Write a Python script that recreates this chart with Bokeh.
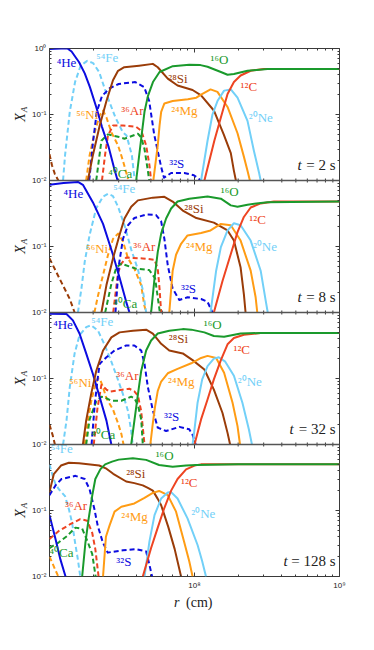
import math
import numpy as np
from bokeh.plotting import figure
from bokeh.layouts import row, column
from bokeh.models import Range1d, LogScale, LogAxis, FixedTicker, Label, Span, ColumnDataSource
from bokeh.embed import file_html
from bokeh.resources import INLINE
from bokeh.core.properties import value

R_UNIT = 1e7  # radii below are given in units of 1e7 cm; pairs are (r, X_A)

# ---------------- t = 2 s ----------------
T2_XX = [(1.0, 0.025), (1.04, 0.017), (1.09, 0.0125), (1.15, 0.01)]
T2_HE4 = [(1.0, 0.98), (1.2, 1.0), (1.33, 1.0), (1.42, 0.9), (1.6, 0.62), (1.75, 0.42), (1.9, 0.26),
          (2.1, 0.13), (2.3, 0.065), (2.55, 0.033), (2.8, 0.015), (2.95, 0.01)]
T2_FE54 = [(1.24, 0.01), (1.28, 0.024), (1.38, 0.11), (1.50, 0.31), (1.64, 0.55), (1.82, 0.65), (2.0, 0.6),
           (2.2, 0.44), (2.5, 0.19), (2.85, 0.09), (3.2, 0.054), (3.4, 0.048), (3.7, 0.024), (3.85, 0.011)]
T2_NI56 = [(1.79, 0.01), (1.89, 0.024), (2.05, 0.054), (2.22, 0.097), (2.34, 0.115), (2.47, 0.09),
           (2.67, 0.054), (2.97, 0.034), (3.21, 0.02), (3.48, 0.0105)]
T2_AR36 = [(2.3, 0.01), (2.42, 0.025), (2.53, 0.048), (2.74, 0.068), (3.21, 0.068), (3.96, 0.065),
           (4.29, 0.057), (4.64, 0.034), (4.89, 0.017), (5.02, 0.01)]
T2_CA40 = [(2.1, 0.01), (2.28, 0.04), (2.53, 0.05), (2.97, 0.046), (3.29, 0.043), (4.07, 0.051),
           (4.29, 0.045), (4.52, 0.03), (4.77, 0.014), (4.87, 0.01)]
T2_S32 = [(1.88, 0.01), (2.0, 0.04), (2.12, 0.11), (2.3, 0.19), (2.6, 0.25), (3.0, 0.29), (3.9, 0.31),
          (4.5, 0.26), (4.87, 0.16), (5.27, 0.05), (5.89, 0.016), (6.16, 0.011), (6.9, 0.013),
          (8.5, 0.013), (9.9, 0.012), (11.1, 0.01)]
T2_SI28 = [(1.84, 0.01), (1.99, 0.024), (2.22, 0.068), (2.47, 0.16), (2.74, 0.33), (2.97, 0.46),
           (3.28, 0.52), (4.15, 0.55), (5.16, 0.585), (5.58, 0.52), (6.54, 0.35), (7.64, 0.275),
           (9.7, 0.235), (11.1, 0.195), (13.6, 0.115), (15.9, 0.05), (17.8, 0.026), (18.7, 0.014), (19.3, 0.01)]
T2_O16 = [(3.96, 0.01), (4.29, 0.043), (4.52, 0.11), (4.77, 0.19), (5.17, 0.31), (5.74, 0.44), (7.08, 0.54),
          (9.2, 0.565), (11.0, 0.56), (12.3, 0.53), (15.2, 0.44), (16.9, 0.40), (18.7, 0.41), (23.2, 0.46),
          (31.9, 0.49), (53.9, 0.49), (100.0, 0.49)]
T2_MG24 = [(5.2, 0.01), (5.58, 0.034), (5.74, 0.068), (5.89, 0.11), (6.2, 0.147), (7.07, 0.16), (9.0, 0.17),
           (10.3, 0.18), (11.1, 0.20), (12.9, 0.24), (14.4, 0.22), (16.9, 0.13), (19.8, 0.052),
           (21.9, 0.023), (23.2, 0.014), (24.1, 0.01)]
T2_NE20 = [(11.1, 0.01), (12.3, 0.04), (13.3, 0.10), (14.4, 0.16), (16.0, 0.23), (17.8, 0.24), (19.8, 0.18),
           (23.2, 0.08), (25.7, 0.028), (27.9, 0.013), (28.6, 0.01)]
T2_C12 = [(11.7, 0.01), (13.7, 0.04), (15.2, 0.09), (16.9, 0.205), (18.7, 0.31), (20.8, 0.39), (24.4, 0.46),
          (30.1, 0.49), (50.0, 0.49), (100.0, 0.49)]

# ---------------- t = 8 s ----------------
T8_XX = [(1.0, 0.066), (1.17, 0.033), (1.38, 0.016), (1.49, 0.01)]
T8_HE4 = [(1.0, 0.86), (1.25, 0.92), (1.57, 0.95), (1.70, 0.86), (1.99, 0.47), (2.34, 0.22), (2.74, 0.075),
          (3.04, 0.034), (3.38, 0.0145), (3.56, 0.01)]
T8_FE54 = [(1.57, 0.01), (1.66, 0.023), (1.75, 0.059), (1.89, 0.149), (2.1, 0.38), (2.34, 0.57), (2.53, 0.63),
           (2.74, 0.58), (2.97, 0.40), (3.29, 0.21), (3.66, 0.09), (4.07, 0.045), (4.4, 0.022), (4.64, 0.01)]
T8_NI56 = [(2.04, 0.01), (2.16, 0.018), (2.34, 0.037), (2.53, 0.074), (2.74, 0.13), (2.97, 0.157),
           (3.21, 0.12), (3.48, 0.066), (3.85, 0.046), (4.29, 0.026), (4.5, 0.013), (4.64, 0.01)]
T8_AR36 = [(2.75, 0.01), (2.97, 0.04), (3.13, 0.055), (3.38, 0.068), (3.76, 0.067), (4.4, 0.066),
           (5.3, 0.063), (5.58, 0.046), (5.74, 0.023), (5.89, 0.01)]
T8_CA40 = [(2.42, 0.01), (2.67, 0.027), (2.89, 0.048), (3.13, 0.055), (3.54, 0.05), (3.96, 0.046),
           (4.87, 0.044), (5.35, 0.033), (5.6, 0.016), (5.77, 0.01)]
T8_S32 = [(2.85, 0.01), (3.0, 0.05), (3.21, 0.13), (3.48, 0.21), (3.85, 0.27), (4.64, 0.305), (5.43, 0.30),
          (5.89, 0.24), (6.2, 0.13), (6.54, 0.052), (7.07, 0.023), (7.86, 0.0155), (8.95, 0.017),
          (11.1, 0.016), (12.3, 0.0145), (13.3, 0.01)]
T8_SI28 = [(2.28, 0.01), (2.47, 0.026), (2.74, 0.066), (3.04, 0.149), (3.29, 0.266), (3.66, 0.40),
           (4.07, 0.50), (5.16, 0.55), (6.2, 0.565), (7.07, 0.48), (8.3, 0.35), (10.3, 0.27), (13.6, 0.23),
           (16.9, 0.175), (18.7, 0.123), (20.8, 0.048), (21.9, 0.019), (22.5, 0.01)]
T8_O16 = [(5.02, 0.01), (5.3, 0.033), (5.58, 0.083), (5.89, 0.157), (6.37, 0.266), (6.9, 0.377), (7.64, 0.48),
          (9.2, 0.53), (12.3, 0.57), (15.2, 0.53), (17.8, 0.42), (19.8, 0.40), (23.2, 0.43), (31.9, 0.47),
          (100.0, 0.48)]
T8_MG24 = [(6.7, 0.01), (7.07, 0.043), (7.46, 0.075), (8.08, 0.11), (8.95, 0.147), (11.1, 0.16),
           (12.9, 0.175), (15.2, 0.22), (17.8, 0.21), (20.8, 0.123), (24.4, 0.043), (26.4, 0.017), (27.1, 0.01)]
T8_NE20 = [(12.9, 0.01), (14.1, 0.043), (15.2, 0.098), (16.9, 0.175), (18.7, 0.225), (20.8, 0.21),
           (24.4, 0.123), (28.6, 0.043), (31.0, 0.015), (32.0, 0.01)]
T8_C12 = [(13.6, 0.01), (15.6, 0.03), (17.8, 0.077), (19.8, 0.165), (21.9, 0.28), (24.4, 0.39), (28.6, 0.45),
          (35.3, 0.48), (100.0, 0.48)]

# ---------------- t = 32 s ----------------
T32_XX = [(1.0, 0.02), (1.05, 0.014), (1.09, 0.01)]
T32_HE4 = [(1.0, 0.96), (1.31, 0.95), (1.45, 0.76), (1.61, 0.48), (1.79, 0.24), (1.99, 0.118), (2.22, 0.052),
           (2.47, 0.023), (2.67, 0.01)]
T32_FE54 = [(1.24, 0.01), (1.31, 0.023), (1.38, 0.074), (1.49, 0.24), (1.61, 0.45), (1.79, 0.6), (1.94, 0.64),
            (2.16, 0.53), (2.39, 0.33), (2.67, 0.18), (2.97, 0.095), (3.21, 0.058), (3.48, 0.032),
            (3.66, 0.016), (3.75, 0.01)]
T32_NI56 = [(1.75, 0.01), (1.84, 0.023), (1.94, 0.045), (2.05, 0.075), (2.15, 0.1), (2.22, 0.1), (2.34, 0.074),
            (2.47, 0.05), (2.74, 0.034), (2.97, 0.021), (3.13, 0.0145), (3.24, 0.01)]
T32_AR36 = [(2.02, 0.01), (2.14, 0.035), (2.28, 0.08), (2.47, 0.068), (2.6, 0.063), (2.97, 0.066),
            (3.55, 0.07), (3.85, 0.064), (4.07, 0.055), (4.29, 0.032), (4.4, 0.018), (4.52, 0.01)]
T32_CA40 = [(1.79, 0.01), (1.89, 0.024), (2.1, 0.045), (2.28, 0.053), (2.4, 0.052), (2.67, 0.046),
            (3.13, 0.046), (3.66, 0.053), (3.85, 0.05), (4.07, 0.04), (4.29, 0.024), (4.4, 0.01)]
T32_S32 = [(1.95, 0.01), (2.05, 0.04), (2.16, 0.11), (2.22, 0.167), (2.47, 0.21), (2.81, 0.266),
           (3.38, 0.316), (3.85, 0.316), (4.29, 0.266), (4.52, 0.167), (4.77, 0.074), (5.16, 0.033),
           (5.58, 0.018), (6.37, 0.016), (7.86, 0.0185), (9.2, 0.017), (9.7, 0.014), (10.2, 0.01)]
T32_SI28 = [(1.70, 0.01), (1.79, 0.023), (1.94, 0.059), (2.1, 0.13), (2.34, 0.266), (2.67, 0.42), (3.04, 0.50),
            (3.76, 0.53), (4.64, 0.55), (5.16, 0.48), (5.89, 0.335), (6.7, 0.266), (8.3, 0.24), (9.7, 0.19),
            (11.7, 0.137), (13.6, 0.068), (15.6, 0.03), (16.9, 0.015), (17.6, 0.01)]
T32_O16 = [(3.66, 0.01), (3.85, 0.023), (4.07, 0.057), (4.29, 0.13), (4.64, 0.266), (5.02, 0.377),
           (5.58, 0.48), (6.7, 0.53), (8.3, 0.56), (9.5, 0.55), (11.7, 0.50), (13.6, 0.44), (16.0, 0.43),
           (20.8, 0.48), (28.6, 0.49), (100.0, 0.49)]
T32_MG24 = [(4.96, 0.01), (5.16, 0.021), (5.35, 0.038), (5.58, 0.065), (5.89, 0.09), (6.54, 0.12),
            (7.64, 0.14), (9.5, 0.17), (11.1, 0.205), (12.3, 0.22), (14.1, 0.205), (16.0, 0.122),
            (18.3, 0.043), (19.8, 0.019), (20.6, 0.01)]
T32_NE20 = [(9.7, 0.01), (10.0, 0.017), (10.5, 0.043), (11.3, 0.097), (12.3, 0.154), (13.6, 0.2), (14.7, 0.21),
            (16.3, 0.18), (18.7, 0.11), (21.4, 0.043), (23.7, 0.017), (24.9, 0.01)]
T32_C12 = [(10.0, 0.01), (11.1, 0.024), (12.3, 0.048), (13.6, 0.097), (15.2, 0.19), (16.9, 0.33),
           (18.7, 0.41), (21.9, 0.46), (28.6, 0.49), (100.0, 0.49)]

# ---------------- t = 128 s ----------------
T128_HE4 = [(1.0, 0.085), (1.1, 0.037), (1.19, 0.018), (1.29, 0.01)]
T128_FE54 = [(1.0, 0.5), (1.05, 0.34), (1.1, 0.25), (1.16, 0.21), (1.28, 0.165), (1.36, 0.105), (1.43, 0.066),
             (1.5, 0.033), (1.57, 0.018), (1.63, 0.01)]
T128_NI56 = [(1.0, 0.02), (1.09, 0.013), (1.15, 0.01)]
T128_AR36 = [(1.0, 0.037), (1.16, 0.049), (1.39, 0.062), (1.63, 0.074), (1.82, 0.07), (1.97, 0.046),
             (2.07, 0.026), (2.18, 0.01)]
T128_CA40 = [(1.0, 0.027), (1.16, 0.033), (1.32, 0.041), (1.51, 0.055), (1.68, 0.053), (1.82, 0.035),
             (1.97, 0.022), (2.08, 0.01)]
T128_S32 = [(1.0, 0.17), (1.03, 0.19), (1.1, 0.24), (1.21, 0.30), (1.51, 0.335), (1.75, 0.30), (1.89, 0.21),
            (2.04, 0.105), (2.15, 0.059), (2.33, 0.033), (2.52, 0.023), (2.84, 0.024), (3.21, 0.025),
            (3.96, 0.026), (4.64, 0.024), (4.89, 0.015), (5.1, 0.01)]
T128_SI28 = [(1.0, 0.19), (1.07, 0.355), (1.2, 0.48), (1.36, 0.53), (1.6, 0.52), (2.2, 0.48), (2.47, 0.43),
             (2.75, 0.36), (3.38, 0.275), (3.85, 0.26), (4.4, 0.24), (4.77, 0.22), (5.16, 0.2), (5.58, 0.15),
             (5.89, 0.12), (6.6, 0.056), (7.3, 0.026), (8.08, 0.01)]
T128_O16 = [(1.68, 0.01), (1.77, 0.033), (1.86, 0.074), (1.97, 0.167), (2.07, 0.30), (2.24, 0.42),
            (2.42, 0.50), (2.7, 0.55), (3.0, 0.59), (3.76, 0.62), (4.64, 0.585), (5.7, 0.49), (7.07, 0.46),
            (8.75, 0.48), (10.3, 0.49), (20.0, 0.5), (100.0, 0.5)]
T128_MG24 = [(2.34, 0.01), (2.45, 0.04), (2.6, 0.06), (2.81, 0.096), (3.13, 0.114), (3.85, 0.128),
             (4.52, 0.155), (5.16, 0.185), (5.7, 0.198), (6.54, 0.171), (7.46, 0.096), (8.47, 0.034),
             (9.2, 0.017), (9.7, 0.01)]
T128_NE20 = [(4.52, 0.01), (4.89, 0.034), (5.3, 0.085), (5.89, 0.152), (6.54, 0.187), (6.9, 0.19),
             (7.64, 0.152), (8.95, 0.076), (10.5, 0.03), (11.3, 0.017), (12.0, 0.01)]
T128_C12 = [(4.4, 0.01), (5.02, 0.027), (5.58, 0.055), (6.2, 0.11), (6.9, 0.2), (7.64, 0.3), (8.75, 0.42),
            (10.0, 0.48), (11.1, 0.5), (100.0, 0.5)]

TIMES = ["2", "8", "32", "128"]
PANEL_DATA = [
    {"XX": T2_XX, "Ni56": T2_NI56, "Fe54": T2_FE54, "Ar36": T2_AR36, "Ca40": T2_CA40, "S32": T2_S32,
     "He4": T2_HE4, "Si28": T2_SI28, "Mg24": T2_MG24, "Ne20": T2_NE20, "C12": T2_C12, "O16": T2_O16},
    {"XX": T8_XX, "Ni56": T8_NI56, "Fe54": T8_FE54, "Ar36": T8_AR36, "Ca40": T8_CA40, "S32": T8_S32,
     "He4": T8_HE4, "Si28": T8_SI28, "Mg24": T8_MG24, "Ne20": T8_NE20, "C12": T8_C12, "O16": T8_O16},
    {"XX": T32_XX, "Ni56": T32_NI56, "Fe54": T32_FE54, "Ar36": T32_AR36, "Ca40": T32_CA40, "S32": T32_S32,
     "He4": T32_HE4, "Si28": T32_SI28, "Mg24": T32_MG24, "Ne20": T32_NE20, "C12": T32_C12, "O16": T32_O16},
    {"Ni56": T128_NI56, "Fe54": T128_FE54, "Ar36": T128_AR36, "Ca40": T128_CA40, "S32": T128_S32,
     "He4": T128_HE4, "Si28": T128_SI28, "Mg24": T128_MG24, "Ne20": T128_NE20, "C12": T128_C12, "O16": T128_O16},
]

LABEL_TEXT = {"He4": "⁴He", "Fe54": "⁵⁴Fe", "Ni56": "⁵⁶Ni", "Ar36": "³⁶Ar", "Ca40": "⁴⁰Ca", "S32": "³²S",
              "Si28": "²⁸Si", "O16": "¹⁶O", "Mg24": "²⁴Mg", "Ne20": "²⁰Ne", "C12": "¹²C"}

# label anchor positions (r in 1e7 cm, X) -- left/middle anchored
LABELS_T2 = [("He4", 1.12, 0.62), ("Fe54", 2.1, 0.72), ("Ni56", 1.53, 0.10), ("Ar36", 3.13, 0.115),
             ("Ca40", 2.54, 0.0127), ("S32", 6.7, 0.018), ("Si28", 6.6, 0.35), ("O16", 12.9, 0.68),
             ("Mg24", 6.9, 0.115), ("Ne20", 23.7, 0.09), ("C12", 20.8, 0.27)]
LABELS_T8 = [("He4", 1.25, 0.63), ("Fe54", 2.75, 0.75), ("Ni56", 1.79, 0.093), ("Ar36", 3.78, 0.10),
             ("Ca40", 2.75, 0.0137), ("S32", 8.08, 0.023), ("Si28", 8.5, 0.38), ("O16", 15.2, 0.67),
             ("Mg24", 8.75, 0.10), ("Ne20", 25.3, 0.10), ("C12", 23.9, 0.26)]
LABELS_T32 = [("He4", 1.06, 0.66), ("Fe54", 1.94, 0.72), ("Ni56", 1.37, 0.087), ("Ar36", 2.89, 0.11),
              ("Ca40", 1.94, 0.014), ("S32", 6.17, 0.027), ("Si28", 6.65, 0.41), ("O16", 11.6, 0.66),
              ("Mg24", 6.57, 0.09), ("Ne20", 19.9, 0.09), ("C12", 18.6, 0.275)]
LABELS_T128 = [("Fe54", 1.02, 0.86), ("O16", 5.4, 0.69), ("Si28", 3.38, 0.36), ("C12", 8.08, 0.27),
               ("Ar36", 1.28, 0.118), ("Mg24", 3.13, 0.08), ("Ne20", 9.5, 0.09), ("Ca40", 1.0, 0.023),
               ("S32", 2.89, 0.017)]
PANEL_LABELS = [LABELS_T2, LABELS_T8, LABELS_T32, LABELS_T128]

# ---------------- styles ----------------
BLUE, LBLUE, ORANGE, RED, GREEN, BROWN = "#0c0ce0", "#72d0f8", "#ff9c14", "#ee4422", "#1a9a2c", "#9a3c08"
COLOR = {"XX": BROWN, "Ni56": ORANGE, "Fe54": LBLUE, "Ar36": RED, "Ca40": GREEN, "S32": BLUE,
         "He4": BLUE, "Si28": BROWN, "Mg24": ORANGE, "Ne20": LBLUE, "C12": RED, "O16": GREEN}
DASHED = {"XX", "Ni56", "Fe54", "Ar36", "Ca40", "S32"}
DRAW_ORDER = ["XX", "Ni56", "Fe54", "Ar36", "Ca40", "S32", "He4", "Si28", "Mg24", "Ne20", "C12", "O16"]
T_OFFSET = [-42, -42, -50, -56]
SERIF = "Liberation Serif"
AXC = "#3a3a3a"
TXT = "#222222"

LAB_W = 28          # width of the strip holding the X_A labels (includes the 8px page margin)
TOP, BOT = 48, 14   # borders of the main plot
MAIN_W = 332
MAIN_H = TOP + 530 + BOT

p = figure(width=MAIN_W, height=MAIN_H, x_axis_type="log", y_axis_type="log",
           x_range=Range1d(1e7, 1e9), y_range=Range1d(1e-8, 1.0),
           output_backend="svg", toolbar_location=None,
           min_border_left=20, min_border_right=21, min_border_top=TOP, min_border_bottom=BOT,
           background_fill_color="white", border_fill_color="white")
p.grid.visible = False
p.outline_line_color = AXC
p.outline_line_width = 1

ranges, scales = {}, {}
for k in range(4):
    ranges[f"p{k}"] = Range1d(10.0 ** (2 * k - 8), 10.0 ** (2 * k))
    scales[f"p{k}"] = LogScale()
p.extra_y_ranges = ranges
p.extra_y_scales = scales

y_major = [10.0 ** e for e in range(-8, 1)]
y_minor = [m * 10.0 ** e for e in range(-8, 0) for m in range(2, 10)]
y_over = {}
for e in range(-8, 1):
    y_over[10.0 ** e] = "10⁰" if e == 0 else ("10⁻¹" if e % 2 else "10⁻²")
x_major = [1e7, 1e8, 1e9]
x_labeled = [1e8, 1e9]
x_minor = [m * 10.0 ** e for e in (7, 8) for m in range(2, 10)]
x_over = {1e8: "10⁸", 1e9: "10⁹"}


def style_axis(ax, show):
    ax.major_tick_in = 4
    ax.major_tick_out = 0
    ax.minor_tick_in = 2
    ax.minor_tick_out = 0
    ax.axis_line_color = None
    ax.major_tick_line_color = AXC
    ax.minor_tick_line_color = AXC
    ax.major_label_text_font = "Liberation Sans"
    ax.major_label_text_color = TXT
    ax.major_label_text_font_size = "8px"
    ax.major_label_standoff = 3
    if not show:
        ax.major_label_text_alpha = 0.0


yax = p.yaxis[0]
yax.ticker = FixedTicker(ticks=y_major, minor_ticks=y_minor)
yax.major_label_overrides = y_over
style_axis(yax, True)
xax = p.xaxis[0]
xax.ticker = FixedTicker(ticks=x_labeled, minor_ticks=x_minor)
xax.major_label_overrides = x_over
style_axis(xax, True)
xax.major_label_standoff = 4

rax = LogAxis(ticker=FixedTicker(ticks=y_major, minor_ticks=y_minor))
style_axis(rax, False)
p.add_layout(rax, "right")
tax = LogAxis(ticker=FixedTicker(ticks=x_major, minor_ticks=x_minor))
style_axis(tax, False)
p.add_layout(tax, "above")

# panel separators and their inward tick marks
for k in range(1, 4):
    b = 10.0 ** (-2 * k)
    p.add_layout(Span(location=b, dimension="width", line_color="#555555", line_width=1.4))
dec_px = 530.0 / 8.0
fmaj = 10 ** (4.0 / dec_px)
fmin = 10 ** (2.0 / dec_px)
sx, sy0, sy1 = [], [], []
for k in range(1, 4):
    b = 10.0 ** (-2 * k)
    for xv in x_major:
        sx.append(xv); sy0.append(b / fmaj); sy1.append(b * fmaj)
    for xv in x_minor:
        sx.append(xv); sy0.append(b / fmin); sy1.append(b * fmin)
p.segment(x0=sx, y0=sy0, x1=sx, y1=sy1, line_color=AXC, line_width=1)

for k, (t, data) in enumerate(zip(TIMES, PANEL_DATA)):
    name = f"p{k}"
    for sp in DRAW_ORDER:
        if sp not in data:
            continue
        pts = data[sp]
        r = [a * R_UNIT for a, _ in pts]
        X = [b for _, b in pts]
        p.line(r, X, y_range_name=name, line_color=COLOR[sp], line_width=2,
               line_dash="5 3" if sp in DASHED else "solid", line_join="round")
    labs = PANEL_LABELS[k]
    src = ColumnDataSource(dict(x=[a * R_UNIT for _, a, _ in labs], y=[b for _, _, b in labs],
                                text=[LABEL_TEXT[s] for s, _, _ in labs],
                                color=[COLOR[s] for s, _, _ in labs]))
    p.text(x="x", y="y", text="text", text_color="color", source=src, y_range_name=name,
           text_font=value(SERIF), text_font_size="13px", text_align="left", text_baseline="middle")
    # time stamp
    p.add_layout(Label(x=1e9, y=0.017, y_range_name=name, x_offset=T_OFFSET[k], text="t",
                       text_font=SERIF, text_font_style="italic", text_font_size="15px",
                       text_align="left", text_baseline="middle", text_color=TXT))
    p.add_layout(Label(x=1e9, y=0.017, y_range_name=name, x_offset=-4, text=f"= {t} s",
                       text_font=SERIF, text_font_size="15px",
                       text_align="right", text_baseline="middle", text_color=TXT))

# ---- narrow strip on the left carrying the four X_A axis labels ----
lab = figure(width=LAB_W, height=MAIN_H, x_range=Range1d(0, LAB_W), y_range=Range1d(1e-8, 1.0),
             y_axis_type="log", output_backend="svg", toolbar_location=None,
             x_axis_location=None, y_axis_location=None,
             min_border_left=0, min_border_right=0, min_border_top=TOP, min_border_bottom=BOT,
             background_fill_color="white", border_fill_color="white", outline_line_color=None)
lab.grid.visible = False
centers = [0.1 * 10.0 ** (-2 * k) for k in range(4)]
lab.text(x=[20] * 4, y=centers, text=["X"] * 4, angle=math.pi / 2, y_offset=3,
         text_font=value(SERIF), text_font_style="italic", text_font_size="14px",
         text_align="center", text_baseline="middle", text_color=TXT)
lab.text(x=[23] * 4, y=centers, text=["A"] * 4, angle=math.pi / 2, y_offset=-5,
         text_font=value(SERIF), text_font_style="italic", text_font_size="9px",
         text_align="center", text_baseline="middle", text_color=TXT)

# ---- strip below carrying the x-axis label  r (cm) ----
xl = figure(width=LAB_W + MAIN_W, height=26, x_axis_type="log", x_range=Range1d(1e7, 1e9),
            y_range=Range1d(0, 1), output_backend="svg", toolbar_location=None,
            x_axis_location=None, y_axis_location=None,
            min_border_left=LAB_W + 20, min_border_right=21, min_border_top=0, min_border_bottom=0,
            background_fill_color="white", border_fill_color="white", outline_line_color=None)
xl.grid.visible = False
xl.text(x=[1e8], y=[0.5], text=["r"], x_offset=-20, y_offset=-3,
        text_font=value(SERIF), text_font_style="italic", text_font_size="14px",
        text_align="left", text_baseline="middle", text_color=TXT)
xl.text(x=[1e8], y=[0.5], text=["(cm)"], x_offset=-8, y_offset=-3,
        text_font=value(SERIF), text_font_size="14px",
        text_align="left", text_baseline="middle", text_color=TXT)

layout = column(row(lab, p), xl)
open("out.html", "w").write(file_html(layout, INLINE))
